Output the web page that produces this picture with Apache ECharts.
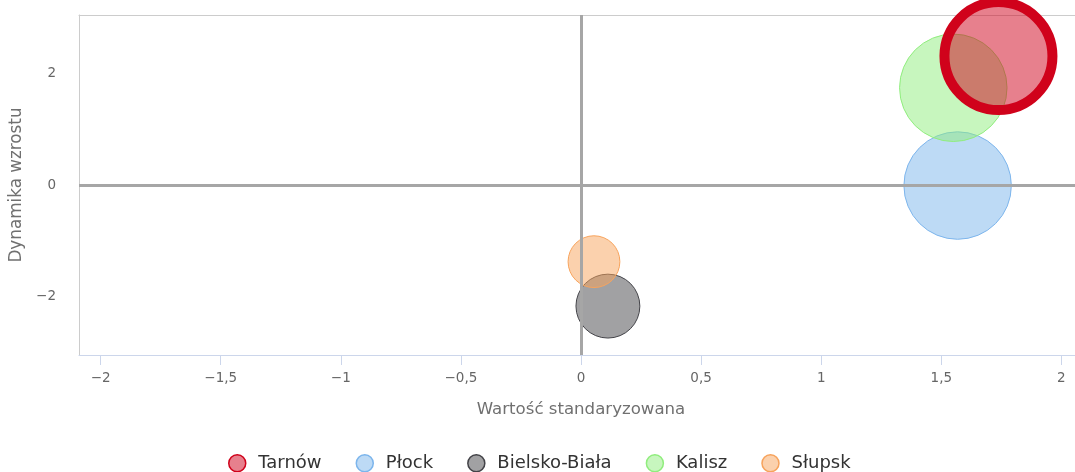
<!DOCTYPE html>
<html>
<head>
<meta charset="utf-8">
<script src="https://cdn.jsdelivr.net/npm/echarts@6/dist/echarts.min.js"></script>
<style>html,body{margin:0;padding:0;background:#fff;overflow:hidden;width:1075px;height:472px}#c{width:1083px;height:472px}</style>
</head>
<body>
<div id="c"></div>
<script>
// ---- data ----
const cities = ['Tarnów', 'Płock', 'Bielsko-Biała', 'Kalisz', 'Słupsk'];
const xValues = [1.738, 1.568, 0.112, 1.550, 0.054];   // Wartość standaryzowana
const yValues = [2.32, -0.01, -2.18, 1.75, -1.38];     // Dynamika wzrostu
const zValues = [100, 99, 35, 99, 23];                 // bubble size value
const xTicks = [-2, -1.5, -1, -0.5, 0, 0.5, 1, 1.5, 2];
const yTicks = [-2, 0, 2];

// ---- styles ----
const fills = ['rgba(208,2,27,0.5)', 'rgba(124,181,236,0.5)', 'rgba(67,67,72,0.5)', 'rgba(144,237,125,0.5)', 'rgba(247,163,92,0.5)'];
const strokes = ['#d0021b', '#7cb5ec', '#434348', '#90ed7d', '#f7a35c'];
const borderW = [10, 1, 1, 1, 1];
const FONT = 'DejaVu Sans';
const RMAX = 54;
const zMax = Math.max.apply(null, zValues);
const fmt = v => String(v).replace('.', ',').replace('-', '\u2212');

const series = cities.map((name, i) => ({
  name: name,
  type: 'scatter',
  z: 3 + (i === 0 ? 5 : 0),
  clip: true,
  data: [[xValues[i], yValues[i], zValues[i]]],
  symbolSize: d => 2 * RMAX * Math.sqrt(d[2] / zMax),
  itemStyle: { color: fills[i], borderColor: strokes[i], borderWidth: borderW[i], opacity: 1 },
  emphasis: { disabled: true }
}));
// zero lines (drawn under bubbles)
series.push({
  name: 'zero', type: 'scatter', data: [], z: 1, silent: true,
  markLine: {
    silent: true, symbol: 'none', label: { show: false },
    lineStyle: { color: '#a6a6a6', width: 3, type: 'solid' },
    data: [{ xAxis: 0 }, { yAxis: 0 }]
  }
});

const chart = echarts.init(document.getElementById('c'), null, { renderer: 'canvas' });
chart.setOption({
  animation: false,
  textStyle: { fontFamily: FONT },
  grid: { left: 79, top: 15, right: 0, bottom: 117, show: false },
  xAxis: [{
    type: 'value', min: -2.09, max: 2.09,
    name: 'Wartość standaryzowana', nameLocation: 'middle', nameGap: 46,
    nameTextStyle: { color: '#707070', fontSize: 16.6, fontFamily: FONT },
    axisLine: { show: true, onZero: false, lineStyle: { color: '#ccd6eb', width: 1 } },
    axisTick: { show: true, customValues: xTicks, length: 10, lineStyle: { color: '#ccd6eb' } },
    axisLabel: { customValues: xTicks, formatter: fmt, color: '#666666', fontSize: 13.5, margin: 16, fontFamily: FONT },
    splitLine: { show: false }
  }, {
    type: 'value', position: 'top', min: -2.09, max: 2.09,
    axisLine: { show: true, onZero: false, lineStyle: { color: '#cccccc', width: 1 } },
    axisTick: { show: false }, axisLabel: { show: false }, splitLine: { show: false }
  }],
  yAxis: {
    type: 'value', min: -3.06, max: 3.06,
    name: 'Dynamika wzrostu', nameLocation: 'middle', nameGap: 53, nameRotate: 90,
    nameTextStyle: { color: '#707070', fontSize: 16.8, fontFamily: FONT },
    axisLine: { show: true, onZero: false, lineStyle: { color: '#cccccc', width: 1 } },
    axisTick: { show: false },
    axisLabel: { customValues: yTicks, formatter: fmt, color: '#666666', fontSize: 13.5, margin: 23, fontFamily: FONT },
    splitLine: { show: false }
  },
  legend: {
    top: 449, left: 223,
    icon: 'circle', itemWidth: 32, itemHeight: 17, itemGap: 34,
    textStyle: { color: '#333333', fontSize: 18, fontFamily: FONT },
    data: cities.map((c, i) => ({ name: c, itemStyle: { color: fills[i], borderColor: strokes[i], borderWidth: 1.5 } }))
  },
  series: series
});
</script>
</body>
</html>
